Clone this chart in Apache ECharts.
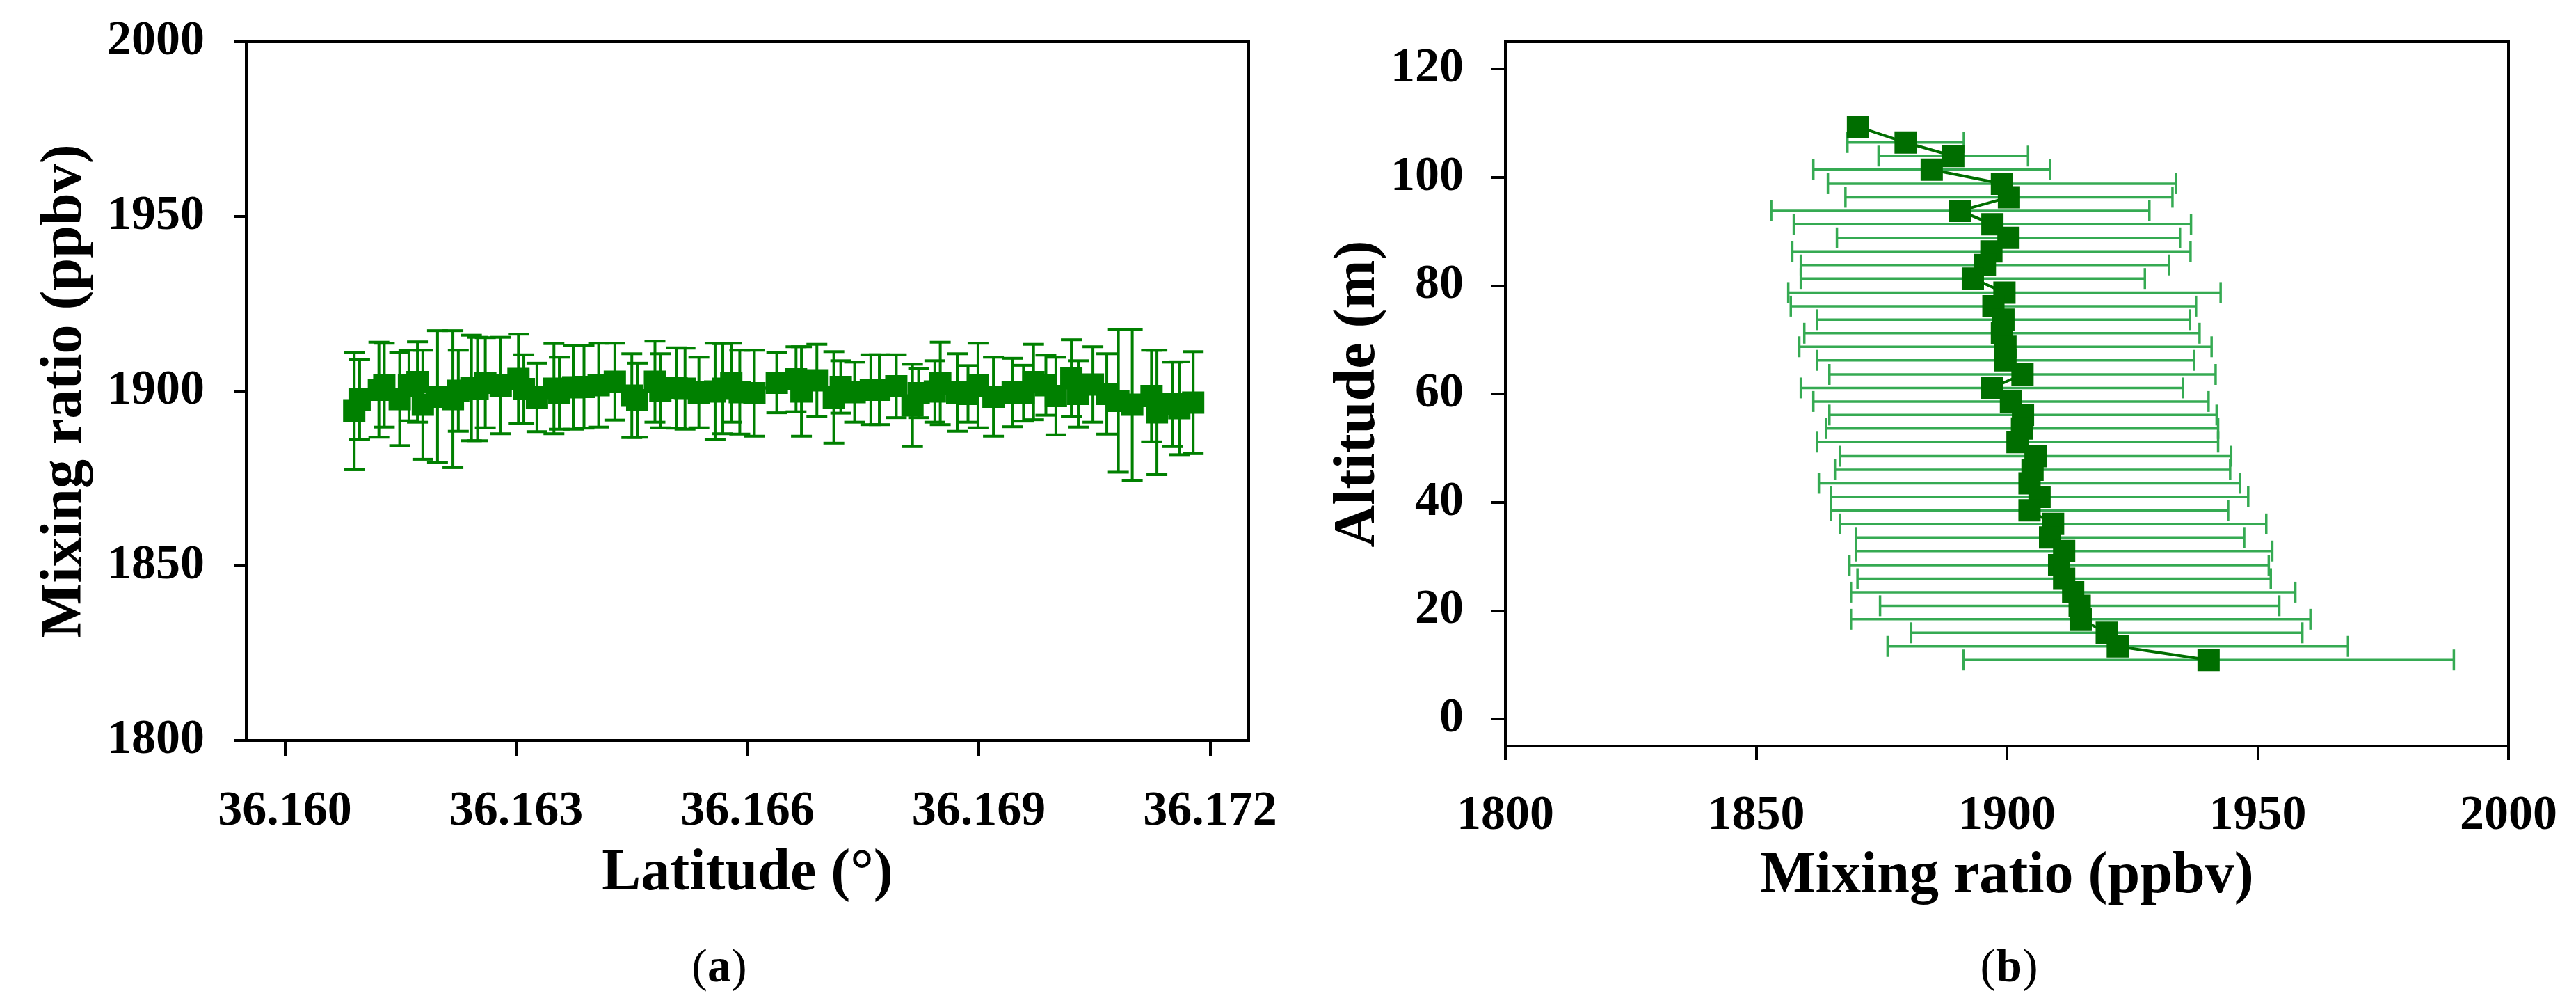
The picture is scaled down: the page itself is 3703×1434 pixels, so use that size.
<!DOCTYPE html>
<html>
<head>
<meta charset="utf-8">
<script src="https://cdn.jsdelivr.net/npm/echarts@6/dist/echarts.min.js"></script>
<style>
html,body{margin:0;padding:0;background:#fff;}
#chart{width:3703px;height:1434px;}
</style>
</head>
<body>
<div id="chart"></div>
<script>
// ---------- Panel (a): mixing ratio along latitude ----------
const latA = [36.16090,36.16097,36.16122,36.16129,36.16149,36.16161,36.16172,36.16179,36.16198,36.16218,
  36.16225,36.16242,36.16250,36.16260,36.16280,36.16303,36.16310,36.16327,36.16349,36.16356,
  36.16374,36.16388,36.16407,36.16428,36.16450,36.16457,36.16480,36.16487,36.16508,36.16519,
  36.16537,36.16558,36.16568,36.16579,36.16590,36.16609,36.16638,36.16663,36.16670,36.16690,
  36.16712,36.16721,36.16739,36.16760,36.16771,36.16793,36.16814,36.16822,36.16843,36.16850,
  36.16872,36.16886,36.16899,36.16919,36.16944,36.16958,36.16971,36.16987,36.17000,36.17020,
  36.17029,36.17048,36.17066,36.17081,36.17099,36.17124,36.17131,36.17151,36.17160,36.17178];
const meanA = [1894.3,1897.6,1900.4,1901.7,1897.7,1901.6,1902.6,1896.1,1898.4,1897.7,
  1900.1,1900.9,1900.6,1902.4,1901.6,1903.5,1900.6,1898.2,1900.7,1899.4,
  1901.1,1901.2,1901.7,1902.7,1898.7,1897.4,1902.7,1900.1,1900.9,1900.7,
  1899.6,1899.9,1900.7,1902.4,1899.7,1899.4,1902.4,1903.4,1899.9,1903.1,
  1898.2,1901.2,1899.7,1900.4,1900.4,1901.4,1895.9,1899.4,1899.9,1902.2,
  1899.6,1899.2,1901.6,1898.4,1899.6,1899.4,1902.6,1901.7,1898.6,1903.7,
  1899.2,1901.9,1899.2,1897.2,1896.1,1898.6,1893.9,1896.2,1895.1,1896.7];
const errA = [16.8,11.5,13.6,12.0,13.3,10.1,11.5,15.6,18.9,19.6,
  11.6,15.1,14.8,12.9,13.8,12.8,9.8,9.8,12.9,10.3,
  12.0,11.8,12.0,11.0,12.0,10.6,11.6,10.6,11.5,11.6,
  10.1,13.8,12.9,11.3,12.0,12.3,8.6,9.3,12.8,10.3,
  13.1,7.5,8.6,10.0,10.0,9.0,11.8,7.0,8.8,11.8,
  11.1,8.1,12.1,11.3,9.8,8.0,10.8,8.6,11.1,11.0,
  9.5,10.8,11.5,20.4,21.6,13.1,17.8,12.1,13.3,14.6];
const latTicks = [36.160, 36.163, 36.166, 36.169, 36.172];

// ---------- Panel (b): vertical profile ----------
const altB = [109.3,106.4,103.9,101.4,98.8,96.3,93.8,91.3,88.8,86.3,
  83.8,81.3,78.7,76.2,73.7,71.2,68.7,66.2,63.6,61.1,
  58.6,56.1,53.6,51.1,48.5,46.0,43.5,41.0,38.5,36.0,
  33.5,31.0,28.4,25.9,23.4,20.9,18.4,15.9,13.4,10.9];
const meanB = [1870.3,1879.8,1889.3,1885.0,1899.0,1900.4,1890.7,1897.1,1900.3,1896.9,
  1895.6,1893.2,1899.5,1897.3,1899.3,1899.0,1899.7,1899.7,1903.1,1897.0,
  1900.8,1903.2,1903.0,1902.1,1905.7,1905.1,1904.5,1906.5,1904.5,1909.2,
  1908.6,1911.4,1910.4,1911.4,1913.2,1914.5,1914.7,1919.9,1922.1,1940.2];
const errB = [0,11.6,14.9,23.6,34.7,32.6,37.7,39.6,34.2,39.7,
  36.7,34.3,43.1,40.4,37.2,39.4,41.1,37.6,38.5,38.1,
  39.4,38.6,39.1,40.0,39.0,39.4,42.0,41.6,39.6,42.5,
  38.7,41.5,41.8,41.2,44.3,39.8,45.8,39.0,45.9,48.9];
const altTicks = [0, 20, 40, 60, 80, 100, 120];

// ---------- styles ----------
const FONT = 'Liberation Serif';
const GREEN_A = '#008000';
const GREEN_B_MARK = '#006e00';
const GREEN_B_BAR = '#35aa52';

const tickLabel = {fontFamily: FONT, fontWeight: 'bold', fontSize: 70, color: '#000'};
const axisTitle = {fontFamily: FONT, fontWeight: 'bold', fontSize: 84, color: '#000'};
const blackLine = {color: '#000', width: 4};
const plain = v => String(v);

const errDataA = latA.map((x, i) => [x, meanA[i] - errA[i], meanA[i] + errA[i]]);
const ptsA = latA.map((x, i) => [x, meanA[i]]);
const errDataB = altB.map((y, i) => [meanB[i] - errB[i], meanB[i] + errB[i], y]);
const ptsB = altB.map((y, i) => [meanB[i], y]);

function vErr(params, api) {
  const x = api.value(0), lo = api.value(1), hi = api.value(2);
  const a = api.coord([x, lo]), b = api.coord([x, hi]);
  const hw = 15;
  const st = () => ({stroke: GREEN_A, lineWidth: 4});
  return {type: 'group', children: [
    {type: 'line', shape: {x1: a[0], y1: a[1], x2: b[0], y2: b[1]}, style: st()},
    {type: 'line', shape: {x1: a[0] - hw, y1: a[1], x2: a[0] + hw, y2: a[1]}, style: st()},
    {type: 'line', shape: {x1: b[0] - hw, y1: b[1], x2: b[0] + hw, y2: b[1]}, style: st()}
  ]};
}
function hErr(params, api) {
  const lo = api.value(0), hi = api.value(1), y = api.value(2);
  const a = api.coord([lo, y]), b = api.coord([hi, y]);
  const hh = 15;
  const st = () => ({stroke: GREEN_B_BAR, lineWidth: 3.5});
  return {type: 'group', children: [
    {type: 'line', shape: {x1: a[0], y1: a[1], x2: b[0], y2: b[1]}, style: st()},
    {type: 'line', shape: {x1: a[0], y1: a[1] - hh, x2: a[0], y2: a[1] + hh}, style: st()},
    {type: 'line', shape: {x1: b[0], y1: b[1] - hh, x2: b[0], y2: b[1] + hh}, style: st()}
  ]};
}

const chart = echarts.init(document.getElementById('chart'), null, {renderer: 'canvas'});
chart.setOption({
  animation: false,
  backgroundColor: '#fff',
  textStyle: {fontFamily: FONT},
  grid: [
    {left: 354, top: 60, width: 1441, height: 1004, show: true, borderColor: '#000', borderWidth: 4, backgroundColor: 'transparent'},
    {left: 2164, top: 60, width: 1442, height: 1012, show: true, borderColor: '#000', borderWidth: 4, backgroundColor: 'transparent'}
  ],
  xAxis: [
    {
      gridIndex: 0, type: 'value', min: 36.1595, max: 36.1725,
      name: 'Latitude (°)', nameLocation: 'middle', nameGap: 150, nameTextStyle: axisTitle,
      axisLine: {show: true, onZero: false, lineStyle: blackLine},
      axisTick: {show: true, inside: false, length: 22, lineStyle: blackLine, customValues: latTicks},
      axisLabel: {show: true, margin: 68, ...tickLabel, customValues: latTicks,
        formatter: v => Number(v).toFixed(3)},
      splitLine: {show: false}
    },
    {
      gridIndex: 1, type: 'value', min: 1800, max: 2000, interval: 50,
      name: 'Mixing ratio (ppbv)', nameLocation: 'middle', nameGap: 146, nameTextStyle: axisTitle,
      axisLine: {show: true, onZero: false, lineStyle: blackLine},
      axisTick: {show: true, inside: false, length: 20, lineStyle: blackLine},
      axisLabel: {show: true, margin: 66, ...tickLabel, formatter: plain},
      splitLine: {show: false}
    }
  ],
  yAxis: [
    {
      gridIndex: 0, type: 'value', min: 1800, max: 2000, interval: 50,
      name: 'Mixing ratio (ppbv)', nameLocation: 'middle', nameGap: 218, nameTextStyle: axisTitle,
      axisLine: {show: true, onZero: false, lineStyle: blackLine},
      axisTick: {show: true, inside: false, length: 18, lineStyle: blackLine},
      axisLabel: {show: true, margin: 60, ...tickLabel, formatter: plain},
      splitLine: {show: false}
    },
    {
      gridIndex: 1, type: 'value', min: -5, max: 125,
      name: 'Altitude (m)', nameLocation: 'middle', nameGap: 162, nameTextStyle: axisTitle,
      axisLine: {show: true, onZero: false, lineStyle: blackLine},
      axisTick: {show: true, inside: false, length: 21, lineStyle: blackLine, customValues: altTicks},
      axisLabel: {show: true, margin: 60, ...tickLabel, customValues: altTicks, formatter: plain},
      splitLine: {show: false}
    }
  ],
  series: [
    {type: 'custom', xAxisIndex: 0, yAxisIndex: 0, renderItem: vErr, data: errDataA,
      encode: {x: 0, y: [1, 2]}, z: 2, silent: true, clip: false},
    {type: 'line', xAxisIndex: 0, yAxisIndex: 0, data: ptsA, symbol: 'rect', symbolSize: 32,
      showSymbol: true, itemStyle: {color: GREEN_A}, lineStyle: {color: GREEN_A, width: 4}, z: 3, silent: true},
    {type: 'custom', xAxisIndex: 1, yAxisIndex: 1, renderItem: hErr, data: errDataB,
      encode: {x: [0, 1], y: 2}, z: 2, silent: true, clip: false},
    {type: 'line', xAxisIndex: 1, yAxisIndex: 1, data: ptsB, symbol: 'rect', symbolSize: 32,
      showSymbol: true, itemStyle: {color: GREEN_B_MARK}, lineStyle: {color: GREEN_B_MARK, width: 4}, z: 3, silent: true}
  ],
  graphic: [
    {type: 'text', x: 1034, y: 1392, style: {text: '({b|a})', align: 'center', verticalAlign: 'middle',
      fontFamily: FONT, fontSize: 68, fill: '#000', rich: {b: {fontFamily: FONT, fontSize: 68, fontWeight: 'bold', fill: '#000'}}}},
    {type: 'text', x: 2888, y: 1392, style: {text: '({b|b})', align: 'center', verticalAlign: 'middle',
      fontFamily: FONT, fontSize: 68, fill: '#000', rich: {b: {fontFamily: FONT, fontSize: 68, fontWeight: 'bold', fill: '#000'}}}}
  ]
});
</script>
</body>
</html>
